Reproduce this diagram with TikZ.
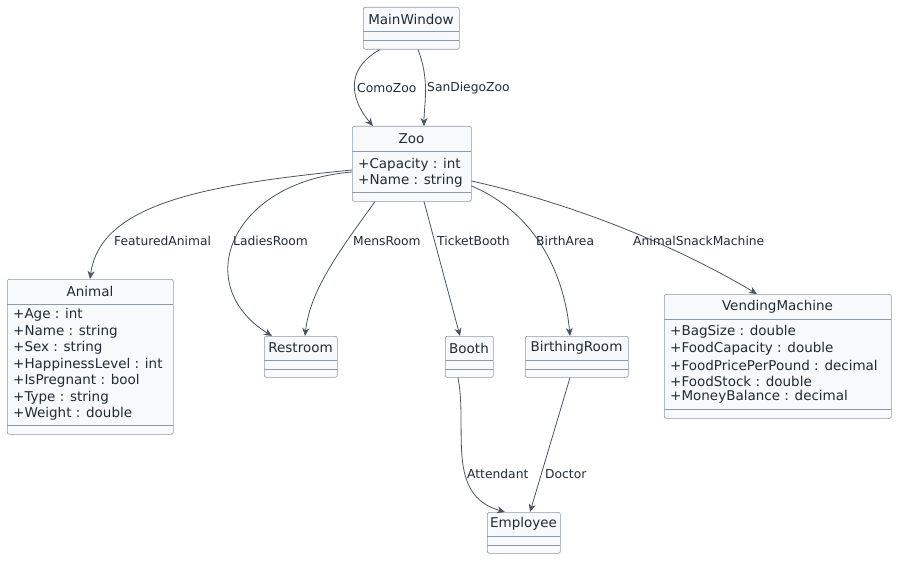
\documentclass[tikz,border=0pt]{standalone}
\usepackage{fontspec}
\setmainfont{DejaVu Sans}
\usetikzlibrary{arrows.meta,calc}
\definecolor{bd}{HTML}{8C9BAA}
\definecolor{fl}{HTML}{F8F9FA}
\definecolor{ln}{HTML}{4A5562}
\definecolor{tx}{HTML}{1F2B38}
\begin{document}
\begin{tikzpicture}[x=1pt,y=-1pt,
 cls/.style={draw=bd,fill=fl,rounded corners=2pt,anchor=north west,inner sep=0pt,line width=0.6pt},
 ttl/.style={text=tx,font=\fontsize{13.5}{15}\selectfont,inner sep=0pt},
 att/.style={text=tx,font=\fontsize{13.5}{15}\selectfont,inner sep=0pt,anchor=west},
 lab/.style={text=tx,font=\fontsize{12.3}{14}\selectfont,inner sep=0pt,anchor=west},
 sep/.style={draw=bd,line width=0.6pt},
 ed/.style={draw=ln,line width=0.8pt,-{Stealth[length=8pt,width=7pt,inset=2.5pt]}}]
\useasboundingbox (0,0) rectangle (905,567);
% classes
\node[cls,minimum width=96pt,minimum height=42pt] (mw) at (363,7) {};
\node[ttl] (mwt) at (411,19) {MainWindow};
\draw[sep] (363,31) -- (459,31); \draw[sep] (363,40) -- (459,40);

\node[cls,minimum width=119pt,minimum height=75pt] (zoo) at (352,126) {};
\node[ttl] (zoot) at (411.5,139) {Zoo};
\draw[sep] (352,151) -- (471,151); \draw[sep] (352,192) -- (471,192);
\node[att] (z1) at (358,165) {+Capacity : int};
\node[att] (z2) at (358,181) {+Name : string};

\node[cls,minimum width=166pt,minimum height=155pt] (an) at (7,279) {};
\node[ttl] (ant) at (90,291) {Animal};
\draw[sep] (7,304) -- (173,304); \draw[sep] (7,425) -- (173,425);
\node[att] (a1) at (13,315) {+Age : int};
\node[att] (a2) at (13,332) {+Name : string};
\node[att] (a3) at (13,348) {+Sex : string};
\node[att] (a4) at (13,365) {+HappinessLevel : int};
\node[att] (a5) at (13,381) {+IsPregnant : bool};
\node[att] (a6) at (13,398) {+Type : string};
\node[att] (a7) at (13,414) {+Weight : double};

\node[cls,minimum width=73pt,minimum height=41pt] (rr) at (264,336) {};
\node[ttl] (rrt) at (300.5,348) {Restroom};
\draw[sep] (264,360) -- (337,360); \draw[sep] (264,369) -- (337,369);

\node[cls,minimum width=48pt,minimum height=41pt] (bo) at (445,336) {};
\node[ttl] (bot) at (469,348) {Booth};
\draw[sep] (445,360) -- (493,360); \draw[sep] (445,369) -- (493,369);

\node[cls,minimum width=103pt,minimum height=41pt] (br) at (525,336) {};
\node[ttl] (brt) at (576.5,348) {BirthingRoom};
\draw[sep] (525,360) -- (628,360); \draw[sep] (525,369) -- (628,369);

\node[cls,minimum width=227pt,minimum height=124pt] (vm) at (664,294) {};
\node[ttl] (vmt) at (777.5,307) {VendingMachine};
\draw[sep] (664,319) -- (891,319); \draw[sep] (664,409) -- (891,409);
\node[att] (v1) at (670,332) {+BagSize : double};
\node[att] (v2) at (670,349) {+FoodCapacity : double};
\node[att] (v3) at (670,365) {+FoodPricePerPound : decimal};
\node[att] (v4) at (670,381) {+FoodStock : double};
\node[att] (v5) at (670,397) {+MoneyBalance : decimal};

\node[cls,minimum width=73pt,minimum height=41pt] (em) at (487,512) {};
\node[ttl] (emt) at (523.5,524) {Employee};
\draw[sep] (487,536) -- (560,536); \draw[sep] (487,545) -- (560,545);

% edges
\draw[ed] ($(mw.south west)+(17,0)$) .. controls (340,72) and (355,105) .. ($(zoo.north west)+(21,0)$);
\draw[ed] ($(mw.south west)+(55,0)$) .. controls (430,80) and (424,105) .. ($(zoo.north west)+(72,0)$);
\draw[ed] ($(zoo.north west)+(0,44)$) .. controls (200,185) and (100,205) .. ($(an.north west)+(83,0)$);
\draw[ed] ($(zoo.north west)+(0,46)$) .. controls (230,182) and (190,285) .. ($(rr.north west)+(8,0)$);
\draw[ed] ($(zoo.south west)+(23,0)$) .. controls (340,250) and (310,290) .. ($(rr.north west)+(41,0)$);
\draw[ed] ($(zoo.south west)+(72,0)$) -- ($(bo.north west)+(15,0)$);
\draw[ed] ($(zoo.north east)+(0,60)$) .. controls (540,215) and (565,280) .. ($(br.north west)+(45,0)$);
\draw[ed] ($(zoo.north east)+(0,55)$) .. controls (600,210) and (700,260) .. ($(vm.north west)+(93,0)$);
\draw[ed] ($(bo.south west)+(13,0)$) .. controls (468,430) and (445,495) .. ($(em.north west)+(18,0)$);
\draw[ed] ($(br.south west)+(45,0)$) -- ($(em.north west)+(43,0)$);
% labels
\node[lab] (l1) at (357,88) {ComoZoo};
\node[lab] (l2) at (427,88) {SanDiegoZoo};
\node[lab] (l3) at (114,241) {FeaturedAnimal};
\node[lab] (l4) at (233,241) {LadiesRoom};
\node[lab] (l5) at (353,241) {MensRoom};
\node[lab] (l6) at (437,241) {TicketBooth};
\node[lab] (l7) at (536,241) {BirthArea};
\node[lab] (l8) at (633,241) {AnimalSnackMachine};
\node[lab] (l9) at (467,474) {Attendant};
\node[lab] (l10) at (545,474) {Doctor};
\end{tikzpicture}
\end{document}
